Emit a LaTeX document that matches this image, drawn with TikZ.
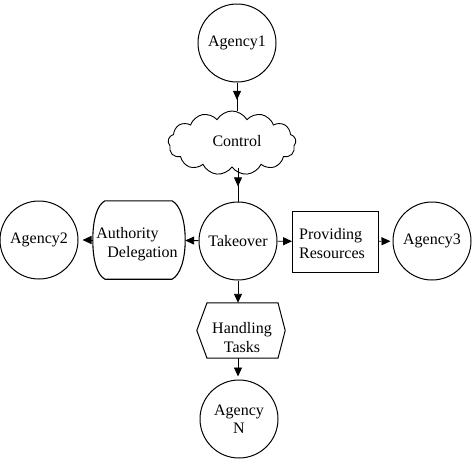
\documentclass[tikz,border=0pt]{standalone}
\usepackage{fontspec}
\setmainfont{Liberation Serif}
\usetikzlibrary{shapes.symbols,shapes.geometric,arrows.meta,decorations.markings}
\begin{document}
\begin{tikzpicture}[x=1pt,y=-1pt,
  txt/.style={font=\fontsize{16}{19}\selectfont},
  agency/.style={circle,draw,line width=1pt,minimum size=78pt,inner sep=0pt,txt,align=center},
  conn/.style={line width=0.9pt},
  tipend/.style={-{Triangle[length=9pt,width=8pt]}},
  midtip/.style={postaction={decorate},decoration={markings,
     mark=at position #1 with {\arrow{Triangle[length=9pt,width=8pt]}}}}
]
\useasboundingbox (0,0) rectangle (476,464);

% agencies
\node[agency] (a1) at (237,43) {Agency1};
\node[agency] (take) at (238,241) {Takeover};
\node[agency] (a2) at (39,240) {Agency2};
\node[agency] (a3) at (432,241) {Agency3};
\node[agency] (an) at (239,419) {Agency\\[-1pt]N};

% control cloud
\node[cloud,draw,line width=0.9pt,cloud puffs=13,cloud puff arc=120,cloud ignores aspect,
      minimum width=128pt,minimum height=64pt,inner sep=0pt,txt] (ctrl) at (232,143) {\raisebox{4pt}{\hspace*{10pt}Control}};

% authority delegation
\node[minimum width=92pt,minimum height=78pt,inner sep=0pt] (auth) at (139,240) {};
\draw[line width=1.1pt] ([xshift=-34pt]auth.north) -- ([xshift=33pt]auth.north)
  .. controls +(8,4) and +(0,-20) .. (auth.east)
  .. controls +(0,20) and +(8,-4) .. ([xshift=33pt]auth.south)
  -- ([xshift=-34pt]auth.south)
  .. controls +(-8,-4) and +(0,20) .. (auth.west)
  .. controls +(0,-20) and +(-8,4) .. cycle;
\node[txt,align=left] (authtxt) at (137,244.5) {Authority\\\hspace*{11pt}Delegation};

% providing resources
\node[draw,line width=0.9pt,minimum width=86pt,minimum height=61pt,inner sep=0pt] (prov) at (335.5,241.5) {};
\node[txt,align=left] (provtxt) at (332,244) {Providing\\Resources};

% handling tasks
\node[minimum width=88pt,minimum height=55pt,inner sep=0pt] (hand) at (241,330.5) {};
\draw[line width=1pt] ([xshift=-34pt]hand.north) -- ([xshift=37pt]hand.north)
  -- (hand.east) -- ([xshift=37pt]hand.south) -- ([xshift=-34pt]hand.south)
  -- (hand.west) -- cycle;
\node[txt,align=center] (handtxt) at (242,337.5) {Handling\\Tasks};

% connectors
\draw[conn,midtip=0.62] (a1.south) -- (a1.south |- ctrl.north);
\draw[conn,midtip=0.55] (ctrl.south -| take.north) -- (take.north);
\draw[conn,tipend] (take) -- (auth);
\draw[conn,tipend,shorten >=4pt] (auth) -- (a2);
\draw[conn,tipend] (take) -- (prov);
\draw[conn,tipend,shorten >=2pt] (prov) -- (a3);
\draw[conn,tipend] (take.south) -- (take.south |- hand.north);
\draw[conn,tipend,shorten >=3pt] (take.south |- hand.south) -- (take.south |- an.north);
\end{tikzpicture}
\end{document}
